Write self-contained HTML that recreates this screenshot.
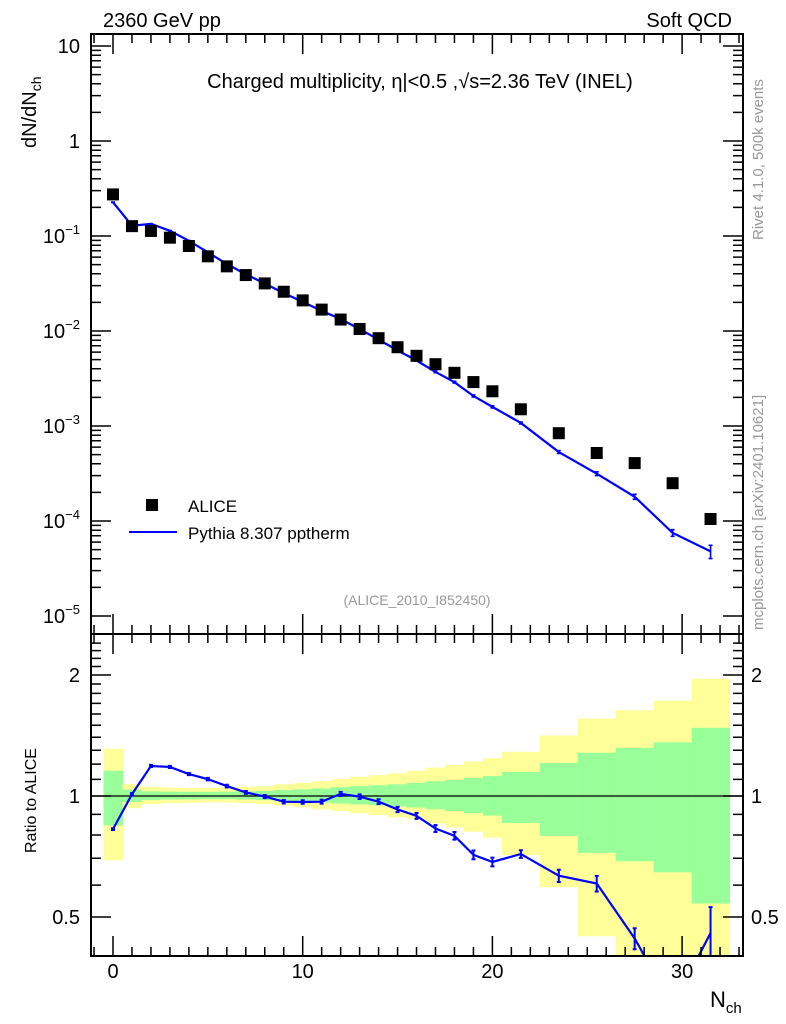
<!DOCTYPE html>
<html><head><meta charset="utf-8"><style>
body{margin:0;background:#fff;}
svg{display:block;font-family:"Liberation Sans",sans-serif;}
</style></head><body>
<svg id="chart" width="786" height="1024" viewBox="0 0 786 1024">
<g id="bands"></g>
<g id="marks"></g>
<g id="axes"></g>
<text x="103" y="27" font-size="20">2360 GeV pp</text>
<text x="732" y="27" font-size="20" text-anchor="end">Soft QCD</text>
<text x="420" y="88" font-size="20" text-anchor="middle">Charged multiplicity, η|&lt;0.5 ,√s=2.36 TeV (INEL)</text>
<text x="417" y="605" font-size="14" fill="#999" text-anchor="middle">(ALICE_2010_I852450)</text>
<text transform="translate(763,240) rotate(-90)" font-size="15" fill="#999">Rivet 4.1.0,  500k events</text>
<text transform="translate(763,630) rotate(-90)" font-size="15" fill="#999">mcplots.cern.ch [arXiv:2401.10621]</text>
<text transform="translate(36,148) rotate(-90)" font-size="20">dN/dN<tspan font-size="14" dy="5">ch</tspan></text>
<text transform="translate(36,853) rotate(-90)" font-size="16">Ratio to ALICE</text>
<text x="710" y="1007" font-size="22">N<tspan font-size="15" dy="6">ch</tspan></text>
<g>
<rect x="146" y="499" width="12" height="12" fill="#000"></rect>
<text x="188" y="512" font-size="17">ALICE</text>
<line x1="129" y1="532" x2="177" y2="532" stroke="#0000ff" stroke-width="2"></line>
<text x="188" y="539" font-size="17">Pythia 8.307 pptherm</text>
</g>
</svg>
<script>
const xVals=[0,1,2,3,4,5,6,7,8,9,10,11,12,13,14,15,16,17,18,19,20,21.5,23.5,25.5,27.5,29.5,31.5];
const binLo=[-0.5,0.5,1.5,2.5,3.5,4.5,5.5,6.5,7.5,8.5,9.5,10.5,11.5,12.5,13.5,14.5,15.5,16.5,17.5,18.5,19.5,20.5,22.5,24.5,26.5,28.5,30.5];
const binHi=[0.5,1.5,2.5,3.5,4.5,5.5,6.5,7.5,8.5,9.5,10.5,11.5,12.5,13.5,14.5,15.5,16.5,17.5,18.5,19.5,20.5,22.5,24.5,26.5,28.5,30.5,32.5];
const aliceVals=[0.274,0.127,0.113,0.096,0.0785,0.0611,0.0479,0.0388,0.0317,0.0259,0.0210,0.0168,0.0132,0.0105,0.0084,0.00675,0.00548,0.00447,0.00363,0.00290,0.00232,0.00150,0.00084,0.00052,0.000407,0.000250,0.000105];
const pythiaVals=[0.2266,0.1283,0.1342,0.1134,0.0890,0.0673,0.0507,0.0396,0.0316,0.02507,0.02029,0.01626,0.01336,0.01046,0.00813,0.00625,0.00489,0.00371,0.00289,0.00207,0.00159,0.001076,0.000532,0.000315,0.000180,0.000075,0.0000479];
const pythiaRelErr=[0.005,0.006,0.006,0.006,0.006,0.007,0.008,0.008,0.009,0.01,0.01,0.011,0.012,0.013,0.014,0.015,0.017,0.02,0.022,0.025,0.025,0.022,0.035,0.045,0.06,0.08,0.16];
const yelUp=[1.311,1.070,1.054,1.050,1.047,1.047,1.050,1.054,1.058,1.070,1.078,1.089,1.102,1.117,1.127,1.138,1.156,1.177,1.195,1.218,1.242,1.288,1.414,1.558,1.635,1.727,1.957];
const yelLo=[0.692,0.933,0.954,0.960,0.962,0.964,0.964,0.960,0.954,0.947,0.938,0.927,0.917,0.906,0.897,0.885,0.873,0.855,0.835,0.815,0.788,0.713,0.593,0.448,0.3,0.3,0.3];
const grnUp=[1.156,1.037,1.027,1.025,1.024,1.024,1.025,1.027,1.029,1.035,1.039,1.044,1.051,1.058,1.063,1.069,1.078,1.088,1.097,1.109,1.121,1.147,1.209,1.281,1.318,1.360,1.478];
const grnLo=[0.845,0.966,0.977,0.980,0.981,0.982,0.982,0.980,0.977,0.973,0.969,0.963,0.958,0.953,0.948,0.942,0.936,0.927,0.917,0.907,0.894,0.857,0.796,0.722,0.688,0.646,0.540];
const xTicks=[0,10,20,30];
const yTicksTop=[10,1,0.1,0.01,0.001,0.0001,0.00001];
const yTickLabels=["10","1","10^-1","10^-2","10^-3","10^-4","10^-5"];
const rTicks=[2,1,0.5];
const rTickLabels=["2","1","0.5"];

const NS="http://www.w3.org/2000/svg";
const L=91,R=743,T=34,MID=634,B=956;
function sx(v){return 113+v*18.97;}
function sy(v){return 141-95*Math.log10(v);}
function sr(v){return Math.min(B,Math.max(MID,796-402*Math.log10(v)));}
function mk(tag,attrs,parent){const e=document.createElementNS(NS,tag);for(const k in attrs)e.setAttribute(k,attrs[k]);parent.appendChild(e);return e;}
const bands=document.getElementById('bands'),marks=document.getElementById('marks'),axes=document.getElementById('axes');

for(let i=0;i<xVals.length;i++){
  const y1=mk('rect',{x:sx(binLo[i]),y:sr(yelUp[i]),width:sx(binHi[i])-sx(binLo[i])+0.5,height:sr(yelLo[i])-sr(yelUp[i]),fill:'#ffff99'},bands);
  
  
  const g1=mk('rect',{x:sx(binLo[i]),y:sr(grnUp[i]),width:sx(binHi[i])-sx(binLo[i])+0.5,height:sr(grnLo[i])-sr(grnUp[i]),fill:'#99ff99'},bands);
  
  
}
const one=mk('line',{x1:L,x2:R,y1:sr(1),y2:sr(1),stroke:'#000','stroke-width':1.2},marks);



const cp=mk('clipPath',{id:'rc'},marks);
mk('rect',{x:L,y:MID,width:R-L,height:B-MID},cp);
let rp='';
for(let i=0;i<xVals.length;i++){const r=pythiaVals[i]/aliceVals[i];rp+=(i?'L':'M')+sx(xVals[i])+','+(796-402*Math.log10(r))+' ';}
const rl=mk('path',{d:rp,fill:'none',stroke:'#0000ff','stroke-width':2.2,'clip-path':'url(#rc)'},marks);


for(let i=0;i<xVals.length;i++){
  const r=pythiaVals[i]/aliceVals[i],e=pythiaRelErr[i]*r;
  const a=sr(r+e),b=sr(Math.max(0.01,r-e)),x=sx(xVals[i]);
  if(r-e>2.6||r+e<0.39)continue;
  const eb=mk('path',{d:`M${x},${a}V${b}M${x-2},${a}H${x+2}M${x-2},${b}H${x+2}`,stroke:'#0000ff','stroke-width':2,fill:'none'},marks);
  
  
}

let pp='';
for(let i=0;i<xVals.length;i++){pp+=(i?'L':'M')+sx(xVals[i])+','+sy(pythiaVals[i])+' ';}
const pl=mk('path',{d:pp,fill:'none',stroke:'#0000ff','stroke-width':2.2},marks);


for(let i=0;i<xVals.length;i++){
  const v=pythiaVals[i],e=v*pythiaRelErr[i],x=sx(xVals[i]),a=sy(v+e),b=sy(v-e);
  const eb=mk('path',{d:`M${x},${a}V${b}M${x-2},${a}H${x+2}M${x-2},${b}H${x+2}`,stroke:'#0000ff','stroke-width':1.6,fill:'none'},marks);
  
  
}
for(let i=0;i<xVals.length;i++){
  const s=mk('rect',{x:sx(xVals[i])-6,y:sy(aliceVals[i])-6,width:12,height:12,fill:'#000'},marks);
  
  
}

for(const [y0,y1,nm] of [[T,MID,'main-frame'],[MID,B,'ratio-frame']]){
  const f=mk('rect',{x:L,y:y0,width:R-L,height:y1-y0,fill:'none',stroke:'#000','stroke-width':2},axes);
  
  
}
let tk='';
for(let v=-1;v<=33;v++){const x=sx(v);if(x<L||x>R)continue;const len=(v%10===0)?20:9;
  for(const [y0,y1] of [[T,MID],[MID,B]]){tk+=`M${x},${y0}v${len}M${x},${y1}v${-len}`;}}
for(let d=-5;d<=1;d++){for(let m=1;m<=9;m++){const v=m*Math.pow(10,d);const y=sy(v);if(y<T||y>MID)continue;const len=m===1?20:10;tk+=`M${L},${y}h${len}M${R},${y}h${-len}`;}}
for(let m=4;m<=24;m++){const v=m/10;if(v>2.55)continue;const y=sr(v);if(y<=MID||y>=B)continue;const len=(v===0.5||v===1||v===2)?20:10;tk+=`M${L},${y}h${len}M${R},${y}h${-len}`;}
const tp=mk('path',{d:tk,stroke:'#000','stroke-width':1.5,fill:'none'},axes);



xTicks.forEach(v=>{const t=mk('text',{x:sx(v),y:978,'font-size':20,'text-anchor':'middle'},axes);t.textContent=v;
  
  });
yTicksTop.forEach((v,i)=>{const lab=yTickLabels[i];const t=mk('text',{x:80,y:sy(v)+7,'font-size':20,'text-anchor':'end'},axes);
  if(lab.indexOf('^')>0){const p=lab.split('^');t.textContent=p[0];const s=document.createElementNS(NS,'tspan');s.setAttribute('font-size','13');s.setAttribute('dy','-9');s.textContent=p[1].replace('-','\u2212');t.appendChild(s);}
  else t.textContent=lab;
  
  });
rTicks.forEach((v,i)=>{for(const [x,a] of [[80,'end'],[751,'start']]){const t=mk('text',{x:x,y:sr(v)+7,'font-size':20,'text-anchor':a},axes);t.textContent=rTickLabels[i];
  
  }});
</script>
</body></html>
